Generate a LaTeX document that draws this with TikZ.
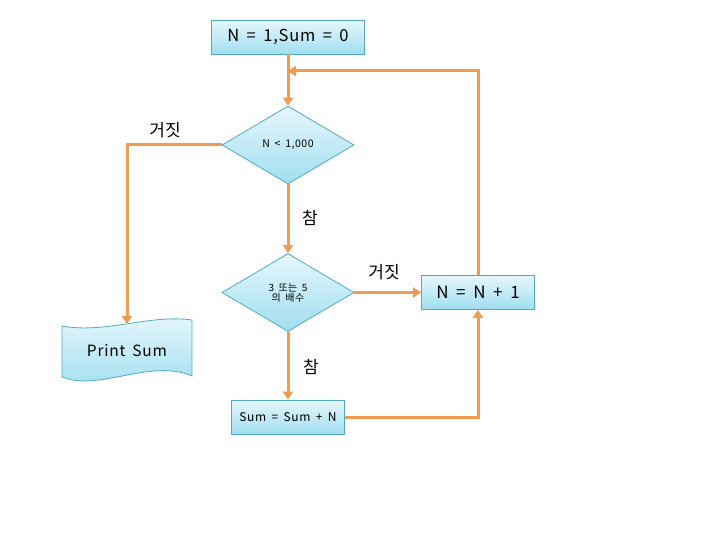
\documentclass[tikz,border=0pt]{standalone}
\usepackage{fontspec}
\setmainfont{Noto Sans CJK KR}
\usetikzlibrary{shapes.geometric,arrows.meta}
\definecolor{boxline}{RGB}{80,170,195}
\definecolor{boxtop}{RGB}{230,247,252}
\definecolor{boxbot}{RGB}{160,222,240}
\definecolor{flow}{RGB}{240,155,80}
\newcommand{\wide}{\addfontfeature{LetterSpace=5}\spaceskip=0.45em\relax}
\tikzset{
  pbox/.style={draw=boxline,line width=0.8pt,top color=boxtop,bottom color=boxbot,inner sep=0pt},
  dbox/.style={pbox,diamond,minimum width=132pt,minimum height=78pt},
  flowline/.style={draw=flow,line width=3pt,-{Triangle[width=10pt,length=8pt]}},
  lbl/.style={font=\fontsize{17}{20}\selectfont},
}
\begin{document}
\begin{tikzpicture}[x=1pt,y=-1pt]
\useasboundingbox (0,0) rectangle (720,540);
% nodes
\node[pbox,minimum width=153pt,minimum height=34pt,font=\fontsize{16.5}{19}\selectfont\wide] (init) at (288,37) {N = 1,Sum = 0};
\node[dbox,font=\fontsize{10.5}{12}\selectfont\wide] (d1) at (288,145) {N < 1,000};
\node[dbox,font=\fontsize{10}{11}\selectfont\wide,align=center] (d2) at (288,292.5) {3 또는 5\\[-1pt]의 배수};
\node[pbox,minimum width=113pt,minimum height=34pt,font=\fontsize{17}{20}\selectfont\wide] (inc) at (478,292.5) {N = N + 1};
\node[pbox,minimum width=113pt,minimum height=34pt,font=\fontsize{12}{14}\selectfont\wide] (sum) at (288,417) {Sum = Sum + N};
% print sum document shape
\path[pbox] (62,326) .. controls (105,334) and (150,314) .. (192,320)
  -- (192,376) .. controls (150,358) and (100,392) .. (62,377) -- cycle;
\node[font=\fontsize{15.5}{18}\selectfont\wide] (print) at (127,351) {Print Sum};
\coordinate (ptop) at (127,324);
% connectors
\coordinate (loopr) at (478,71);
\coordinate (loopl) at (288,71);
\coordinate (lft) at (127,145);
\coordinate (br) at (478,417);
\draw[flowline] (init.south) -- (d1.north);
\draw[flowline] (inc.north) -- (loopr) -- (loopl);
\draw[flowline] (d1.west) -- (lft) -- (ptop);
\draw[flowline] (d1.south) -- (d2.north);
\draw[flowline] (d2.east) -- (inc.west);
\draw[flowline] (d2.south) -- (sum.north);
\draw[flowline] (sum.east) -- (br) -- (inc.south);
% labels
\node[lbl] (l1) at (165,130) {거짓};
\node[lbl] (l2) at (310,218) {참};
\node[lbl] (l3) at (384,272) {거짓};
\node[lbl] (l4) at (311,367) {참};
\end{tikzpicture}
\end{document}
